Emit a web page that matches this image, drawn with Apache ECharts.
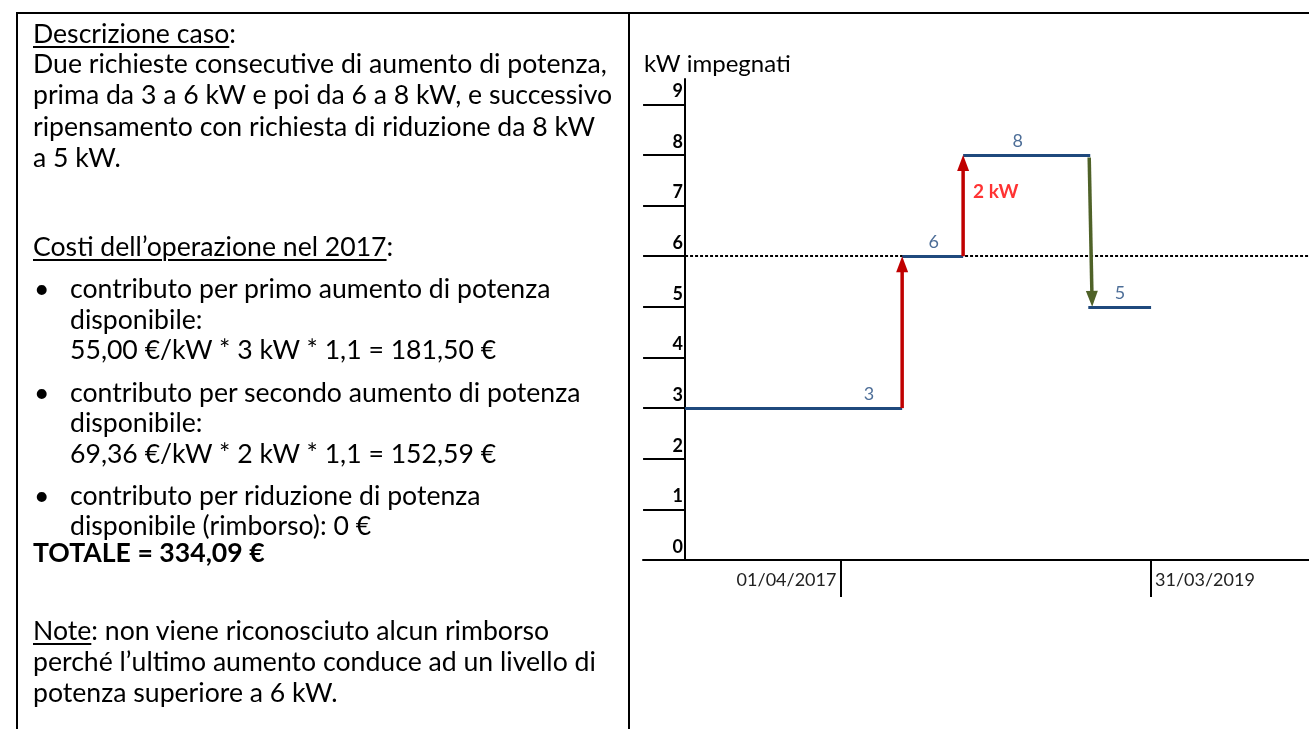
<!DOCTYPE html>
<html>
<head>
<meta charset="utf-8">
<script src="https://cdn.jsdelivr.net/npm/echarts@6/dist/echarts.min.js"></script>
<style>
html,body{margin:0;padding:0;background:#fff;width:1309px;height:729px;overflow:hidden;}
#chart{position:absolute;left:0;top:0;width:1309px;height:729px;z-index:1;}
.b{position:absolute;background:#000;z-index:2;}
#txt{position:absolute;left:0;top:0;width:629px;height:729px;font-family:Lato,'Open Sans',sans-serif;color:#000;z-index:3;}
.ln{position:absolute;white-space:nowrap;height:30px;line-height:30px;}
u{text-decoration:underline;text-underline-offset:3px;text-decoration-thickness:1.5px;}
</style>
</head>
<body>
<div id="chart"></div>
<div class="b" style="left:16px;top:12px;width:1293px;height:2px;"></div>
<div class="b" style="left:16px;top:12px;width:2px;height:717px;"></div>
<div class="b" style="left:628px;top:12px;width:2px;height:717px;"></div>
<div id="txt">
  <div class="ln" style="left:33px;top:18px;"><u>Descrizione caso</u>:</div>
  <div class="ln" style="left:33px;top:48px;">Due richieste consecutive di aumento di potenza,</div>
  <div class="ln" style="left:33px;top:79px;">prima da 3 a 6 kW e poi da 6 a 8 kW, e successivo</div>
  <div class="ln" style="left:33px;top:111px;">ripensamento con richiesta di riduzione da 8 kW</div>
  <div class="ln" style="left:33px;top:142px;">a 5 kW.</div>
  <div class="ln" style="left:33px;top:231px;"><u>Costi dell’operazione nel 2017</u>:</div>
  <div class="ln" style="left:34px;top:273px;">•</div>
  <div class="ln" style="left:70px;top:273px;">contributo per primo aumento di potenza</div>
  <div class="ln" style="left:70px;top:304px;">disponibile:</div>
  <div class="ln" style="left:70px;top:334px;">55,00 €/kW * 3 kW * 1,1 = 181,50 €</div>
  <div class="ln" style="left:34px;top:377px;">•</div>
  <div class="ln" style="left:70px;top:377px;">contributo per secondo aumento di potenza</div>
  <div class="ln" style="left:70px;top:407px;">disponibile:</div>
  <div class="ln" style="left:70px;top:438px;">69,36 €/kW * 2 kW * 1,1 = 152,59 €</div>
  <div class="ln" style="left:34px;top:480px;">•</div>
  <div class="ln" style="left:70px;top:480px;">contributo per riduzione di potenza</div>
  <div class="ln" style="left:70px;top:510px;">disponibile (rimborso): 0 €</div>
  <div class="ln" style="left:33px;top:537px;font-weight:bold;">TOTALE = 334,09 €</div>
  <div class="ln" style="left:33px;top:615px;"><u>Note</u>: non viene riconosciuto alcun rimborso</div>
  <div class="ln" style="left:33px;top:646px;">perché l’ultimo aumento conduce ad un livello di</div>
  <div class="ln" style="left:33px;top:677px;">potenza superiore a 6 kW.</div>
</div>
<script>
// ---- data ----
const yTicks = [0, 1, 2, 3, 4, 5, 6, 7, 8, 9];
const levels = [3, 6, 8, 5];                 // kW impegnati
const levelStart = [0, 16.77, 21.48, 31.15]; // months from axis origin
const levelEnd = [16.77, 21.48, 31.3, 36];
const levelLabelX = [14.2, 19.2, 25.7, 33.6];
const dateTicks = [12, 36];
const dateLabels = ['01/04/2017', '31/03/2019'];
const threshold = 6;
const increaseArrows = [[16.77, 3, 16.77, 6], [21.48, 6, 21.48, 8]];
const decreaseArrows = [[31.22, 7.95, 31.45, 5.0]];
const noteText = '2 kW';
const notePoint = [21.48, 7.28];
const X_MIN = -3.25, X_MAX = 48.2, Y_MAX = 9.5;

// fit left text font to reference width
(function () {
  const target = 574;
  const c = document.createElement('canvas').getContext('2d');
  c.font = '22px Lato';
  const w = c.measureText('Due richieste consecutive di aumento di potenza,').width;
  document.getElementById('txt').style.fontSize = (22 * target / w).toFixed(2) + 'px';
})();

const FONT = 'Lato';
const chart = echarts.init(document.getElementById('chart'), null, {renderer: 'canvas'});

function arrowItem(params, api) {
  const p1 = api.coord([api.value(0), api.value(1)]);
  const p2 = api.coord([api.value(2), api.value(3)]);
  const dx = p2[0] - p1[0], dy = p2[1] - p1[1];
  const L = Math.hypot(dx, dy), ux = dx / L, uy = dy / L;
  const hl = 16, hw = 6;
  const base = [p2[0] - ux * hl, p2[1] - uy * hl];
  const color = api.visual('color');
  return {
    type: 'group',
    children: [
      {type: 'line', shape: {x1: p1[0], y1: p1[1], x2: base[0] + ux * 2, y2: base[1] + uy * 2},
       style: {stroke: color, lineWidth: 3.5}},
      {type: 'polygon', shape: {points: [p2, [base[0] - uy * hw, base[1] + ux * hw], [base[0] + uy * hw, base[1] - ux * hw]]},
       style: {fill: color}}
    ]
  };
}

const xBase = {
  type: 'value', min: X_MIN, max: X_MAX, position: 'bottom',
  splitLine: {show: false}
};

chart.setOption({
  animation: false,
  title: {
    text: 'kW impegnati', left: 644, top: 52, padding: 0,
    textStyle: {fontFamily: FONT, fontSize: 24, fontWeight: 'normal', color: '#000'}
  },
  grid: {left: 643, right: 0, top: 79, bottom: 169, containLabel: false},
  xAxis: [
    Object.assign({}, xBase, {
      axisLine: {show: true, onZero: false, lineStyle: {color: '#000', width: 2}},
      axisTick: {show: true, customValues: [dateTicks[0]], length: 37, lineStyle: {color: '#000', width: 2}},
      axisLabel: {show: true, customValues: [dateTicks[0]], formatter: () => dateLabels[0],
        align: 'right', padding: [0, 4, 0, 0], margin: 11,
        fontFamily: FONT, fontSize: 18, color: '#222'}
    }),
    Object.assign({}, xBase, {
      axisLine: {show: false, onZero: false},
      axisTick: {show: true, customValues: [dateTicks[1]], length: 37, lineStyle: {color: '#000', width: 2}},
      axisLabel: {show: true, customValues: [dateTicks[1]], formatter: () => dateLabels[1],
        align: 'left', padding: [0, 0, 0, 4], margin: 11,
        fontFamily: FONT, fontSize: 18, color: '#222'}
    })
  ],
  yAxis: {
    type: 'value', min: 0, max: Y_MAX,
    splitLine: {show: false},
    axisLine: {show: true, onZero: true, lineStyle: {color: '#000', width: 2}},
    axisTick: {show: true, customValues: yTicks, length: 42, lineStyle: {color: '#000', width: 2}},
    axisLabel: {show: true, customValues: yTicks, margin: -40, align: 'right', verticalAlign: 'bottom',
      lineHeight: 26, fontFamily: FONT, fontSize: 18, fontWeight: 'bold', color: '#000'}
  },
  series: [
    {
      type: 'lines', coordinateSystem: 'cartesian2d', silent: true, z: 2,
      lineStyle: {color: '#000', width: 2, type: [3, 2], opacity: 1},
      data: [{coords: [[0, threshold], [X_MAX, threshold]]}]
    },
    {
      type: 'lines', coordinateSystem: 'cartesian2d', silent: true, z: 3,
      lineStyle: {color: '#1F497D', width: 3, opacity: 1},
      data: levels.map((v, i) => ({coords: [[levelStart[i], v], [levelEnd[i], v]]}))
    },
    {
      type: 'custom', silent: true, z: 4, itemStyle: {color: '#C00000'},
      encode: {x: [0, 2], y: [1, 3]},
      renderItem: arrowItem, data: increaseArrows
    },
    {
      type: 'custom', silent: true, z: 4, itemStyle: {color: '#4F6228'},
      encode: {x: [0, 2], y: [1, 3]},
      renderItem: arrowItem, data: decreaseArrows
    },
    {
      type: 'scatter', silent: true, z: 5, symbolSize: 0,
      data: levelLabelX.map((x, i) => [x, levels[i]]),
      label: {show: true, position: 'top', distance: 5, formatter: p => String(p.value[1]),
        fontFamily: FONT, fontSize: 18, color: '#1F497D'}
    },
    {
      type: 'scatter', silent: true, z: 5, symbolSize: 0,
      data: [notePoint],
      label: {show: true, position: 'right', distance: 10, formatter: () => noteText,
        fontFamily: FONT, fontSize: 19, fontWeight: 'bold', color: '#FF0000'}
    }
  ]
});
</script>
</body>
</html>
